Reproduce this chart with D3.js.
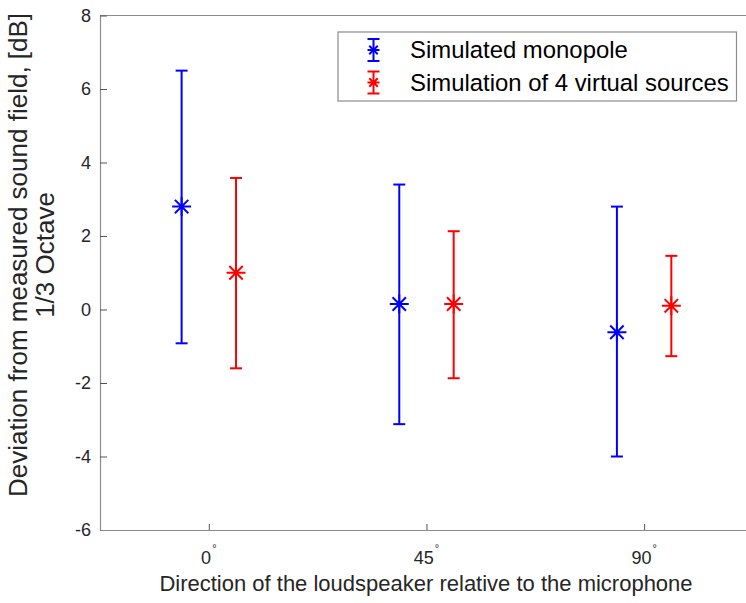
<!DOCTYPE html>
<html>
<head>
<meta charset="utf-8">
<script src="https://cdn.jsdelivr.net/npm/d3@7"></script>
<style>
  html, body { margin: 0; padding: 0; background: #fff; }
  svg { display: block; font-family: "Liberation Sans", Arial, sans-serif; }
</style>
</head>
<body>
<svg id="chart" width="746" height="603"></svg>
<script>
// Loudspeaker directions (category labels, degrees)
const directions = ["0", "45", "90"];
// Mean deviation and error-bar limits for each model, per direction [dB]
const monopoleMean  = [2.80, 0.15, -0.62];
const monopoleLow   = [-0.92, -3.12, -4.00];
const monopoleHigh  = [6.50, 3.40, 2.80];
const virtualMean   = [1.00, 0.15, 0.10];
const virtualLow    = [-1.60, -1.87, -1.27];
const virtualHigh   = [3.58, 2.13, 1.46];
const yTicks = [-6, -4, -2, 0, 2, 4, 6, 8];
const seriesNames = ["Simulated monopole", "Simulation of 4 virtual sources"];
const seriesColors = ["#0000ff", "#ff0000"];

const series = [
  { name: seriesNames[0], color: seriesColors[0], offset: -0.125,
    pts: directions.map((d, i) => ({ i, m: monopoleMean[i], lo: monopoleLow[i], hi: monopoleHigh[i] })) },
  { name: seriesNames[1], color: seriesColors[1], offset: 0.125,
    pts: directions.map((d, i) => ({ i, m: virtualMean[i], lo: virtualLow[i], hi: virtualHigh[i] })) }
];

const svg = d3.select("#chart");
const plotLeft = 100, plotTop = 15.5, plotBottom = 530, unit = 217.65;
const x = d3.scaleLinear().domain([0.5, 3.5]).range([plotLeft, plotLeft + 3 * unit]);
const y = d3.scaleLinear().domain([-6, 8]).range([plotBottom, plotTop]);

const axisColor = "#8c8c8c";
const textColor = "#262626";

// axes box (top, bottom, left)
const g = svg.append("g");
g.append("line").attr("x1", plotLeft).attr("x2", x(3.5)).attr("y1", y(8)).attr("y2", y(8))
  .attr("stroke", axisColor).attr("stroke-width", 1.2);

const yAxis = d3.axisLeft(y).tickValues(yTicks).tickSize(-7).tickPadding(9).tickSizeOuter(0)
  .tickFormat(d => String(d));
const yg = g.append("g").attr("transform", `translate(${plotLeft},0)`).call(yAxis);
const xAxis = d3.axisBottom(x).tickValues([1, 2, 3]).tickSize(-6).tickSizeOuter(0).tickFormat(() => "");
const xg = g.append("g").attr("transform", `translate(0,${plotBottom})`).call(xAxis);
[yg, xg].forEach(a => {
  a.select(".domain").attr("stroke", axisColor).attr("stroke-width", 1.2);
  a.selectAll(".tick line").attr("stroke", "#555").attr("stroke-width", 1);
});
yg.selectAll(".tick text").attr("fill", textColor).style("font-size", "18px")
  .style("font-family", "Liberation Sans, Arial, sans-serif");

// x tick labels with degree sign
directions.forEach((d, i) => {
  const t = svg.append("text").attr("x", x(i + 1)).attr("y", 564)
    .attr("text-anchor", "middle").attr("fill", textColor).style("font-size", "18px");
  t.append("tspan").text(d);
  t.append("tspan").attr("dy", -12).attr("dx", 1).style("font-size", "11px").text("\u00B0");
});

// error bars and asterisk markers
const cap = 6, arm = 9.5;
series.forEach(s => {
  const sg = svg.append("g").attr("stroke", s.color).attr("fill", "none");
  s.pts.forEach(p => {
    const cx = x(p.i + 1 + s.offset);
    sg.append("line").attr("x1", cx).attr("x2", cx).attr("y1", y(p.lo)).attr("y2", y(p.hi)).attr("stroke-width", 2);
    [p.lo, p.hi].forEach(v => sg.append("line").attr("x1", cx - cap).attr("x2", cx + cap)
      .attr("y1", y(v)).attr("y2", y(v)).attr("stroke-width", 2));
    const cy = y(p.m);
    const d = arm * Math.SQRT1_2;
    sg.append("path").attr("stroke-width", 2)
      .attr("d", `M${cx - arm},${cy}H${cx + arm}M${cx},${cy - arm}V${cy + arm}` +
                 `M${cx - d},${cy - d}L${cx + d},${cy + d}M${cx - d},${cy + d}L${cx + d},${cy - d}`);
  });
});

// legend
const lg = svg.append("g");
lg.append("rect").attr("x", 338).attr("y", 32).attr("width", 398.5).attr("height", 69)
  .attr("fill", "#fff").attr("stroke", axisColor).attr("stroke-width", 1.2);
series.forEach((s, k) => {
  const ly = 50 + k * 32.5, lx = 373.5;
  const sg = lg.append("g").attr("stroke", s.color).attr("fill", "none").attr("stroke-width", 2);
  sg.append("line").attr("x1", lx).attr("x2", lx).attr("y1", ly - 11).attr("y2", ly + 11);
  [ly - 11, ly + 11].forEach(v => sg.append("line").attr("x1", lx - 6).attr("x2", lx + 6).attr("y1", v).attr("y2", v));
  const a = 6, d = a * Math.SQRT1_2;
  sg.append("path").attr("d", `M${lx - a},${ly}H${lx + a}M${lx - d},${ly - d}L${lx + d},${ly + d}M${lx - d},${ly + d}L${lx + d},${ly - d}`);
  lg.append("text").attr("x", 410).attr("y", ly).attr("dy", "0.35em")
    .attr("fill", "#000").style("font-size", "23.9px").text(s.name);
});

// axis titles
svg.append("text").attr("x", 426).attr("y", 591).attr("text-anchor", "middle")
  .attr("fill", textColor).style("font-size", "22px")
  .text("Direction of the loudspeaker relative to the microphone");
const yt = svg.append("text").attr("transform", "translate(0,255) rotate(-90)")
  .attr("text-anchor", "middle").attr("fill", textColor).style("font-size", "26px");
yt.append("tspan").attr("x", 0).attr("y", 26.5).text("Deviation from measured sound field, [dB]");
yt.append("tspan").attr("x", 0).attr("y", 54).text("1/3 Octave");
</script>
</body>
</html>
